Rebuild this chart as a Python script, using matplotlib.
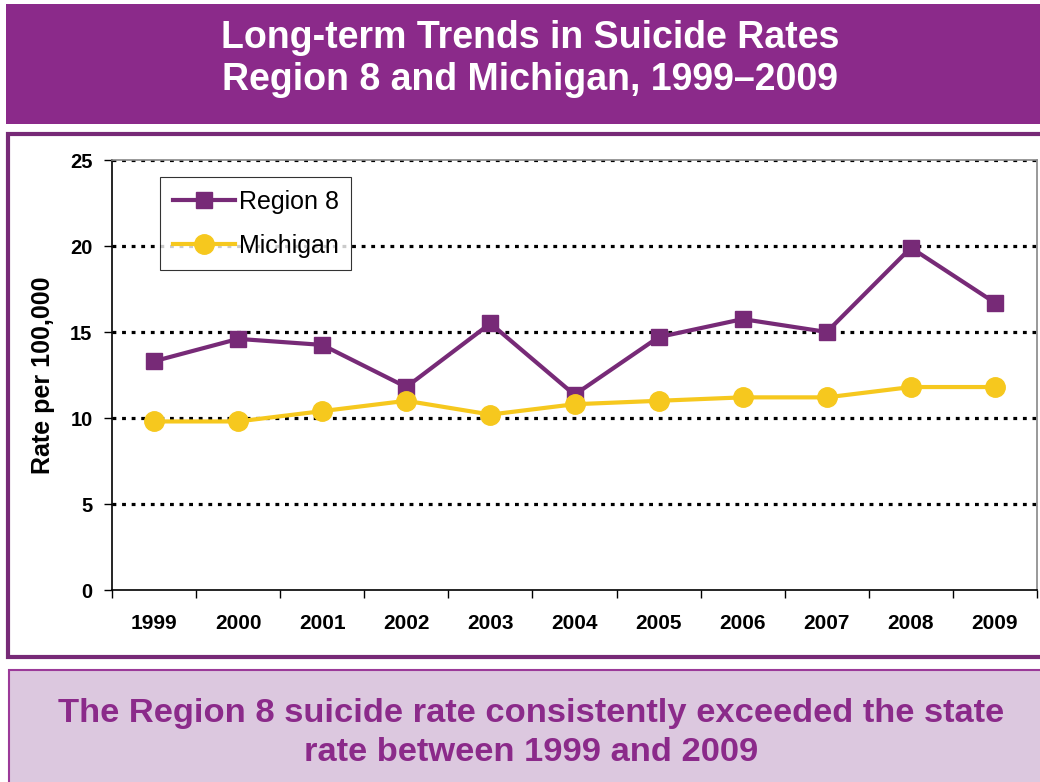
import numpy as np
import matplotlib.pyplot as plt
from matplotlib.patches import Rectangle

plt.rcParams['font.family'] = ['Liberation Sans', 'DejaVu Sans']

years = ['1999', '2000', '2001', '2002', '2003', '2004', '2005', '2006', '2007', '2008', '2009']
region8 = [13.3, 14.6, 14.25, 11.8, 15.5, 11.35, 14.7, 15.75, 15.0, 19.9, 16.7]
michigan = [9.8, 9.8, 10.4, 11.0, 10.2, 10.8, 11.0, 11.2, 11.2, 11.8, 11.8]
yticks = [0, 5, 10, 15, 20, 25]

title = "Long-term Trends in Suicide Rates\nRegion 8 and Michigan, 1999\u20132009"
note = "The Region 8 suicide rate consistently exceeded the state\nrate between 1999 and 2009"

purple = '#8B2A8A'
dark_purple = '#772A77'
yellow = '#F6C81E'

W, H = 1040, 782
fig = plt.figure(figsize=(W / 100, H / 100), dpi=100)

def box(x0, y0, x1, y1, **kw):
    # pixel coords from top-left
    fig.patches.append(Rectangle((x0 / W, 1 - y1 / H), (x1 - x0) / W, (y1 - y0) / H,
                                 transform=fig.transFigure, zorder=-5, **kw))

# title band
box(6, 4, 1040, 124, facecolor=purple, edgecolor='none')
fig.text(530 / W, 1 - 59 / H, title, ha='center', va='center', color='white',
         fontsize=27, fontweight='bold', linespacing=1.25)

# chart frame
box(8, 134, 1045, 657, facecolor='white', edgecolor=dark_purple, linewidth=3)

# bottom note box
box(9, 670, 1045, 790, facecolor='#DCC8DF', edgecolor='#9B3A99', linewidth=1.5)
fig.text(531 / W, 1 - 733 / H, note, ha='center', va='center', color=purple,
         fontsize=24.8, fontweight='bold', linespacing=1.3)

ax = fig.add_axes([112 / W, 1 - 590 / H, (1037 - 112) / W, (590 - 160) / H])
x = np.arange(len(years))

for v in yticks[1:]:
    ax.axhline(v, color='black', linestyle=(0, (1.2, 1.8)), linewidth=2.3, zorder=1)

ax.plot(x, region8, color=dark_purple, linewidth=3, marker='s', markersize=12,
        label='Region 8', zorder=3)
ax.plot(x, michigan, color=yellow, linewidth=3, marker='o', markersize=14,
        label='Michigan', zorder=3)

ax.set_xlim(-0.5, len(years) - 0.5)
ax.set_ylim(0, 25)
ax.set_yticks(yticks)
ax.set_yticklabels([str(v) for v in yticks], fontsize=14.5, fontweight='bold')
ax.set_xticks(x)
ax.set_xticklabels(years, fontsize=15, fontweight='bold')
ax.set_xticks(np.arange(-0.5, len(years)), minor=True)
ax.tick_params(axis='x', which='major', length=0, pad=17)
ax.tick_params(axis='x', which='minor', length=6, width=1, direction='out')
ax.tick_params(axis='y', length=6, width=1, direction='out', pad=8)

ax.spines['left'].set_color('black')
ax.spines['bottom'].set_color('black')
ax.spines['top'].set_color('#888888')
ax.spines['right'].set_color('#888888')
for s in ax.spines.values():
    s.set_linewidth(1.2)

ax.set_ylabel('Rate per 100,000', fontsize=18, fontweight='bold')
ax.yaxis.set_label_coords(-0.062, 0.5)

leg = ax.legend(loc='upper left', bbox_to_anchor=(48 / 925, 1 - 17 / 430),
                borderaxespad=0, fontsize=18, frameon=True, fancybox=False,
                edgecolor='black', handlelength=2.5, borderpad=0.5,
                labelspacing=0.8, handletextpad=0.15)
leg.get_frame().set_linewidth(0.8)

fig.savefig('out.png', dpi=100)
